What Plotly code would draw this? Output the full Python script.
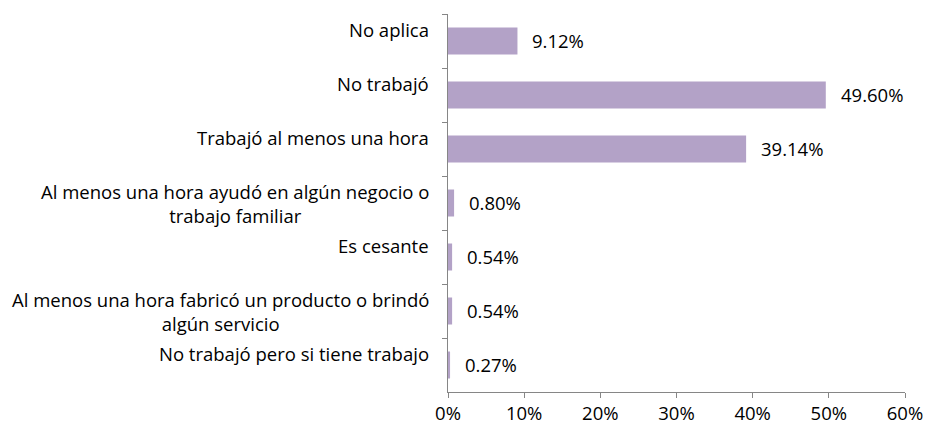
import plotly.graph_objects as go

# Categories (top to bottom) and their shares in percent
categories = [
    "No aplica",
    "No trabajó",
    "Trabajó al menos una hora",
    "Al menos una hora ayudó en algún negocio o<br>trabajo familiar",
    "Es cesante",
    "Al menos una hora fabricó un producto o brindó<br>algún servicio",
    "No trabajó pero si tiene trabajo",
]
values = [9.12, 49.60, 39.14, 0.80, 0.54, 0.54, 0.27]
value_labels = ["9.12%", "49.60%", "39.14%", "0.80%", "0.54%", "0.54%", "0.27%"]
x_ticks = [0, 10, 20, 30, 40, 50, 60]

FONT = "Open Sans"
FONT_SIZE = 18.5
TEXT_COLOR = "#000000"
AXIS_COLOR = "#868686"
BAR_COLOR = "#b3a2c7"

fig = go.Figure(
    go.Bar(
        x=values,
        y=categories,
        orientation="h",
        marker=dict(color=BAR_COLOR, line=dict(width=0)),
        hoverinfo="skip",
    )
)

annotations = []
# value labels just past the end of each bar
for cat, val, lab in zip(categories, values, value_labels):
    annotations.append(dict(
        x=val, y=cat, xref="x", yref="y", text=lab, showarrow=False,
        xanchor="left", yanchor="middle", xshift=13, yshift=1,
        font=dict(family=FONT, size=FONT_SIZE, color=TEXT_COLOR),
    ))
# category labels hang from the top edge of each category band,
# with the lines of two-line labels centred on each other
n = len(categories)
for i, cat in enumerate(categories):
    annotations.append(dict(
        x=0, y=1 - i / n, xref="paper", yref="paper", text=cat, showarrow=False,
        xanchor="right", yanchor="top", align="center", xshift=-17, yshift=-1,
        font=dict(family=FONT, size=FONT_SIZE, color=TEXT_COLOR),
    ))

fig.update_layout(
    template="none",
    width=926,
    height=428,
    margin=dict(l=448, r=21, t=14, b=36, pad=0),
    paper_bgcolor="white",
    plot_bgcolor="white",
    bargap=0.5,
    showlegend=False,
    font=dict(family=FONT, size=FONT_SIZE, color=TEXT_COLOR),
    annotations=annotations,
    xaxis=dict(
        range=[0, 60],
        tickvals=x_ticks,
        ticktext=[f"{t}%" for t in x_ticks],
        showgrid=False,
        zeroline=False,
        showline=True,
        linecolor=AXIS_COLOR,
        linewidth=1,
        ticks="outside",
        ticklen=5,
        tickcolor=AXIS_COLOR,
        tickfont=dict(family=FONT, size=FONT_SIZE, color=TEXT_COLOR),
        automargin=False,
        fixedrange=True,
    ),
    yaxis=dict(
        type="category",
        range=[n - 0.5, -0.5],
        showgrid=False,
        zeroline=False,
        showline=True,
        linecolor=AXIS_COLOR,
        linewidth=1,
        ticks="outside",
        ticklen=5,
        tickcolor=AXIS_COLOR,
        tickson="boundaries",
        showticklabels=False,
        automargin=False,
        fixedrange=True,
    ),
)

fig.write_html("out.html", config={"displayModeBar": False})
